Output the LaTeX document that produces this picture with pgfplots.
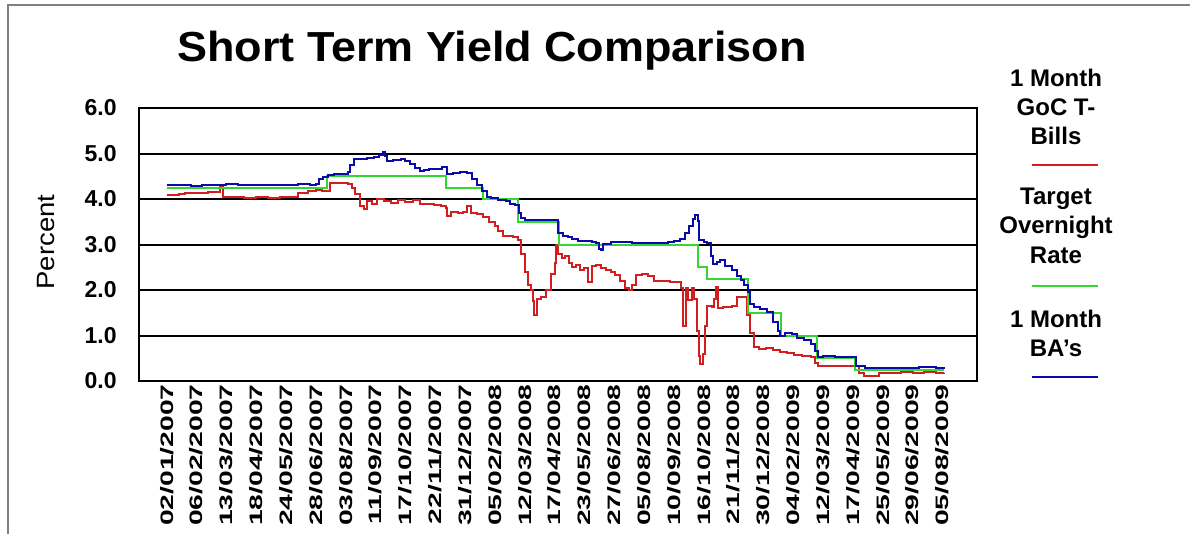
\documentclass[border=0pt]{standalone}
\usepackage{fontspec}
\setmainfont{Liberation Sans}
\usepackage{graphicx}
\usepackage{pgfplots}
\pgfplotsset{compat=1.18}
\definecolor{tbred}{RGB}{210,30,30}
\definecolor{tgreen}{RGB}{50,215,50}
\definecolor{bablue}{RGB}{10,10,170}
\newcommand{\xl}[1]{\scalebox{1.57}[1]{#1}}
\begin{document}
\begin{tikzpicture}
\begin{scope}[x=0.5pt,y=-0.5pt]
\path[use as bounding box, fill=white] (0,0) rectangle (1190,534);
\draw[gray, line width=1pt] (8,534) -- (8,5) -- (1190,5);
\node[anchor=base, font=\bfseries\fontsize{21}{21}\selectfont] at (492,62) {\scalebox{1.07}[1]{Short Term Yield Comparison}};
\node[rotate=90, font=\fontsize{12.5}{13}\selectfont] at (46,242) {\scalebox{1.1}[1]{Percent}};
\begin{scope}[every node/.style={anchor=base, font=\bfseries\fontsize{12}{12}\selectfont}]
\node at (1056,87) {1 Month};
\node at (1056,116) {GoC T-};
\node at (1056,145) {Bills};
\node at (1056,205) {Target};
\node at (1056,234) {Overnight};
\node at (1056,264) {Rate};
\node at (1056,328) {1 Month};
\node at (1056,357) {BA's};
\end{scope}
\draw[tbred, line width=1pt] (1032,165) -- (1098,165);
\draw[tgreen, line width=1pt] (1032,286) -- (1098,286);
\draw[bablue, line width=1pt] (1032,377) -- (1098,377);
\end{scope}
\begin{axis}[
  at={(69.5pt,-190.5pt)}, anchor=south west,
  width=419pt, height=136.5pt, scale only axis,
  xmin=-23.2, xmax=679, ymin=0, ymax=6,
  xtick={0,25,...,650},
  xticklabels={\xl{02/01/2007},\xl{06/02/2007},\xl{13/03/2007},\xl{18/04/2007},\xl{24/05/2007},\xl{28/06/2007},\xl{03/08/2007},\xl{11/09/2007},\xl{17/10/2007},\xl{22/11/2007},\xl{31/12/2007},\xl{05/02/2008},\xl{12/03/2008},\xl{17/04/2008},\xl{23/05/2008},\xl{27/06/2008},\xl{05/08/2008},\xl{10/09/2008},\xl{16/10/2008},\xl{21/11/2008},\xl{30/12/2008},\xl{04/02/2009},\xl{12/03/2009},\xl{17/04/2009},\xl{25/05/2009},\xl{29/06/2009},\xl{05/08/2009}},
  ytick={0,1,2,3,4,5,6},
  yticklabels={0.0,1.0,2.0,3.0,4.0,5.0,6.0},
  ymajorgrids,
  major grid style={black, line width=1pt},
  axis line style={black, line width=1pt},
  major tick length=0pt,
  xticklabel style={rotate=90, anchor=east, inner sep=1.5pt, font=\bfseries\fontsize{9}{9}\selectfont},
  yticklabel style={anchor=east, inner sep=0pt, xshift=-11pt, font=\bfseries\fontsize{11.5}{12}\selectfont},
]
\addplot[tbred, line width=1pt, const plot] coordinates {
(0,4.08)(10,4.10)(15,4.14)(25,4.14)(35,4.15)(42,4.16)(45,4.28)(47,4.05)(55,4.04)(65,4.03)(75,4.05)(85,4.03)(95,4.04)(105,4.05)(110,4.13)(118,4.18)(125,4.20)(130,4.17)(135,4.18)(137,4.35)(145,4.35)(152,4.33)(155,4.25)(158,4.10)(162,3.85)(165,3.78)(168,3.95)(172,3.88)(176,4.00)(182,3.95)(188,3.92)(194,3.97)(200,3.93)(206,3.98)(212,3.90)(218,3.88)(224,3.86)(230,3.84)(234,3.80)(235,3.62)(238,3.72)(244,3.70)(248,3.72)(252,3.85)(255,3.70)(260,3.68)(265,3.60)(270,3.50)(275,3.40)(278,3.30)(282,3.18)(290,3.17)(294,3.10)(297,2.80)(300,2.40)(303,2.10)(305,2.00)(307,1.75)(308,1.45)(310,1.80)(314,1.85)(318,2.00)(322,2.35)(325,2.60)(326,3.00)(328,2.80)(331,2.70)(334,2.75)(337,2.60)(340,2.50)(343,2.55)(346,2.45)(350,2.48)(353,2.18)(356,2.52)(360,2.56)(364,2.48)(368,2.44)(372,2.40)(376,2.33)(380,2.20)(384,2.05)(387,2.00)(390,2.10)(393,2.33)(398,2.36)(403,2.30)(408,2.20)(415,2.19)(422,2.18)(428,2.17)(431,2.05)(433,1.20)(435,2.05)(437,1.78)(440,2.05)(442,1.80)(444,1.10)(446,0.55)(447,0.38)(449,0.60)(451,1.20)(453,1.65)(457,1.62)(459,1.80)(460,2.07)(462,1.60)(466,1.63)(470,1.62)(474,1.65)(478,1.85)(483,1.85)(486,1.45)(489,1.05)(492,0.75)(496,0.70)(502,0.72)(508,0.68)(514,0.64)(520,0.62)(526,0.58)(532,0.55)(540,0.52)(543,0.40)(546,0.33)(555,0.33)(565,0.34)(576,0.32)(580,0.18)(584,0.12)(592,0.10)(597,0.18)(605,0.17)(615,0.19)(625,0.18)(635,0.19)(645,0.17)(651,0.18)
};
\addplot[tgreen, line width=1pt] coordinates {
(0,4.25)(134,4.25)(134,4.50)(234,4.50)(234,4.25)(265,4.25)(265,4.00)(294,4.00)(294,3.50)(329,3.50)(329,3.00)(445,3.00)(445,2.50)(453,2.50)(453,2.25)(487,2.25)(487,1.50)(515,1.50)(515,1.00)(545,1.00)(545,0.50)(577,0.50)(577,0.25)(651,0.25)
};
\addplot[bablue, line width=1pt, const plot] coordinates {
(0,4.30)(10,4.31)(20,4.29)(30,4.31)(40,4.30)(50,4.32)(60,4.30)(70,4.31)(80,4.30)(90,4.31)(100,4.30)(110,4.32)(120,4.31)(125,4.33)(128,4.45)(131,4.48)(135,4.52)(140,4.55)(148,4.56)(152,4.60)(154,4.75)(157,4.87)(162,4.88)(168,4.90)(174,4.92)(178,4.97)(181,5.03)(183,4.95)(185,4.84)(190,4.86)(196,4.87)(200,4.84)(204,4.76)(208,4.68)(212,4.62)(216,4.64)(220,4.66)(226,4.67)(231,4.70)(234,4.71)(235,4.55)(240,4.58)(246,4.60)(252,4.57)(256,4.45)(260,4.30)(264,4.18)(268,4.05)(272,4.02)(278,3.98)(284,3.95)(288,3.90)(292,3.86)(295,3.70)(297,3.58)(300,3.53)(310,3.53)(320,3.54)(327,3.54)(328,3.25)(332,3.18)(336,3.17)(340,3.12)(345,3.08)(350,3.07)(356,3.06)(360,3.04)(362,2.90)(364,2.88)(366,3.02)(372,3.05)(380,3.05)(390,3.04)(400,3.04)(410,3.03)(420,3.05)(425,3.07)(430,3.12)(434,3.25)(438,3.40)(441,3.55)(443,3.65)(445,3.52)(446,3.10)(450,3.06)(453,3.04)(456,2.75)(458,2.58)(461,2.62)(464,2.65)(468,2.52)(474,2.45)(478,2.30)(481,2.22)(484,2.10)(487,1.95)(489,1.70)(492,1.62)(497,1.58)(503,1.52)(508,1.30)(512,1.10)(514,0.98)(518,1.05)(524,1.03)(528,0.95)(534,0.90)(540,0.82)(543,0.66)(546,0.52)(550,0.54)(560,0.53)(570,0.53)(576,0.52)(578,0.32)(585,0.28)(600,0.28)(615,0.29)(630,0.30)(645,0.29)(651,0.26)
};
\end{axis}
\end{tikzpicture}
\end{document}
